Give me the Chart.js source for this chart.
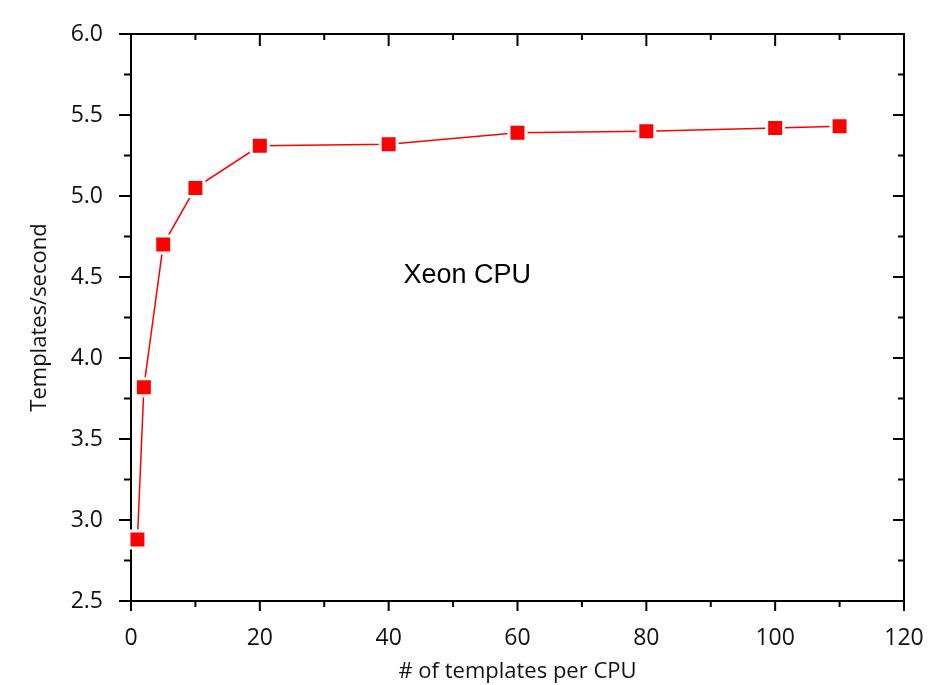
<!DOCTYPE html>
<html>
<head>
<meta charset="utf-8">
<script src="https://cdn.jsdelivr.net/npm/chart.js@4/dist/chart.umd.min.js"></script>
<style>
  body { margin: 0; background: #fff; }
  #wrap { width: 934px; height: 685px; position: relative; }
</style>
</head>
<body>
<div id="wrap"><canvas id="graph"></canvas></div>
<script>
// templates per CPU vs throughput
const templatesPerCpu = [1, 2, 5, 10, 20, 40, 60, 80, 100, 110];
const templatesPerSec = [2.88, 3.82, 4.70, 5.05, 5.31, 5.32, 5.39, 5.40, 5.42, 5.43];

const xMin = 0, xMax = 120, xStep = 20, xMinor = 10;
const yMin = 2.5, yMax = 6.0, yStep = 0.5, yMinor = 0.25;

const xTitle = '# of templates per CPU';
const yTitle = 'Templates/second';
const noteText = 'Xeon CPU';
const noteX = 42.3, noteY = 4.464;

const labelFont = 'Open Sans';

// box + ticks on all four sides (origin style)
const frameTicks = {
    id: 'frameTicks',
    beforeDatasetsDraw(chart) {
        const ctx = chart.ctx;
        const a = chart.chartArea;
        const x = chart.scales.x, y = chart.scales.y;
        ctx.save();
        ctx.strokeStyle = '#000';
        ctx.lineWidth = 2;
        ctx.strokeRect(a.left, a.top, a.right - a.left, a.bottom - a.top);
        ctx.beginPath();
        const nx = Math.round((xMax - xMin) / xMinor);
        for (let i = 0; i <= nx; i++) {
            const px = x.getPixelForValue(xMin + i * xMinor);
            const major = (i * xMinor) % xStep === 0;
            ctx.moveTo(px, a.bottom); ctx.lineTo(px, a.bottom + (major ? 10 : 6));
            ctx.moveTo(px, a.top); ctx.lineTo(px, a.top + (major ? 12 : 6));
        }
        const ny = Math.round((yMax - yMin) / yMinor);
        for (let i = 0; i <= ny; i++) {
            const py = y.getPixelForValue(yMin + i * yMinor);
            const major = i % 2 === 0;
            ctx.moveTo(a.left, py); ctx.lineTo(a.left - (major ? 12 : 7), py);
            ctx.moveTo(a.right, py); ctx.lineTo(a.right - (major ? 11 : 6), py);
        }
        ctx.stroke();
        ctx.restore();
    },
    afterDatasetsDraw(chart) {
        const ctx = chart.ctx;
        ctx.save();
        ctx.fillStyle = '#000';
        ctx.font = '27px "Liberation Sans", Arial, sans-serif';
        ctx.textAlign = 'left';
        ctx.textBaseline = 'alphabetic';
        ctx.fillText(noteText, chart.scales.x.getPixelForValue(noteX), chart.scales.y.getPixelForValue(noteY));
        ctx.restore();
    }
};

const ctx = document.getElementById('graph');
const chart = new Chart(ctx, {
    type: 'line',
    data: {
        datasets: [{
            label: noteText,
            data: templatesPerCpu.map((v, i) => ({x: v, y: templatesPerSec[i]})),
            borderColor: '#ff0000',
            borderWidth: 1.5,
            backgroundColor: '#ff0000',
            pointStyle: 'rect',
            pointRadius: 12,
            pointHoverRadius: 12,
            pointBackgroundColor: '#ff0000',
            pointBorderColor: '#ffffff',
            pointBorderWidth: 3,
            tension: 0,
            clip: false
        }]
    },
    options: {
        responsive: true,
        maintainAspectRatio: false,
        animation: false,
        layout: { padding: { top: 34, right: 30, left: 0, bottom: 0 } },
        plugins: {
            legend: { display: false },
            tooltip: { enabled: false }
        },
        scales: {
            x: {
                type: 'linear',
                min: xMin, max: xMax,
                grid: { display: false },
                border: { display: false },
                ticks: { stepSize: xStep, color: '#111', padding: 16, font: { family: labelFont, size: 23 } },
                title: { display: true, text: xTitle, color: '#111', padding: 0, font: { family: labelFont, size: 22 } },
                afterFit: (s) => { s.height = 84; s.paddingLeft = 0; s.paddingRight = 0; }
            },
            y: {
                min: yMin, max: yMax,
                grid: { display: false },
                border: { display: false },
                ticks: { stepSize: yStep, color: '#111', padding: 20, font: { family: labelFont, size: 23 },
                    callback: (v) => v.toFixed(1) },
                title: { display: true, text: yTitle, color: '#111', padding: { top: 27, bottom: 0 }, font: { family: labelFont, size: 22 } },
                afterFit: (s) => { s.width = 131; }
            }
        }
    },
    plugins: [frameTicks]
});
</script>
</body>
</html>
